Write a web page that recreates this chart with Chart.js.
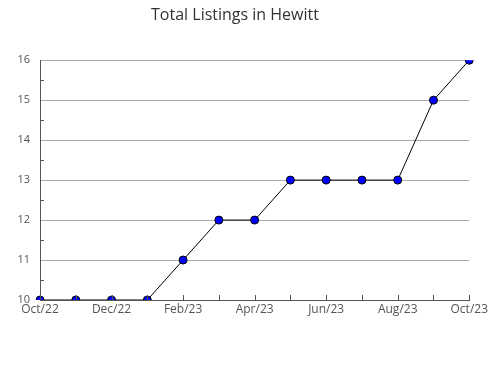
<!DOCTYPE html>
<html lang="en">
<head>
<meta charset="UTF-8">
<title>Total Listings in Hewitt</title>
<style>
  html, body { margin: 0; padding: 0; background: #fff; }
  #wrap { width: 490px; height: 380px; }
</style>
</head>
<body>
<div id="wrap"><canvas id="myChart" width="490" height="380"></canvas></div>
<script src="https://cdn.jsdelivr.net/npm/chart.js@4/dist/chart.umd.min.js"></script>
<script>
const meses = ['Oct/22', 'Nov/22', 'Dec/22', 'Jan/23', 'Feb/23', 'Mar/23', 'Apr/23',
               'May/23', 'Jun/23', 'Jul/23', 'Aug/23', 'Sep/23', 'Oct/23'];
const listings = [10, 10, 10, 10, 11, 12, 12, 13, 13, 13, 13, 15, 16];
const yTicks = [10, 11, 12, 13, 14, 15, 16];

// small ticks pointing into the plot
const inwardTicks = {
  id: 'inwardTicks',
  afterDraw(chart) {
    const ctx = chart.ctx;
    const x = chart.scales.x, y = chart.scales.y;
    const area = chart.chartArea;
    ctx.save();
    ctx.strokeStyle = '#555';
    ctx.lineWidth = 1;
    ctx.beginPath();
    for (let i = 0; i < meses.length; i++) {
      const px = Math.round(x.getPixelForValue(i)) + 0.5;
      ctx.moveTo(px, area.bottom);
      ctx.lineTo(px, area.bottom - 5);
    }
    for (let i = 0; i < yTicks.length - 1; i++) {
      const py = Math.round(y.getPixelForValue(yTicks[i] + 0.5)) + 0.5;
      ctx.moveTo(area.left, py);
      ctx.lineTo(area.left + 4, py);
    }
    ctx.stroke();
    ctx.restore();
  }
};

new Chart(document.getElementById('myChart'), {
  type: 'line',
  data: {
    labels: meses,
    datasets: [{
      label: 'Listings',
      data: listings,
      borderColor: '#000',
      borderWidth: 1,
      pointBackgroundColor: '#0000ff',
      pointBorderColor: '#000',
      pointBorderWidth: 1,
      pointRadius: 4,
      tension: 0
    }]
  },
  options: {
    responsive: false,
    animation: false,
    layout: { padding: { left: 0, right: 20, top: 0, bottom: 0 } },
    plugins: {
      legend: { display: false },
      tooltip: { enabled: false },
      title: {
        display: true,
        text: 'Total Listings in Hewitt',
        color: '#333',
        font: { family: 'Open Sans', size: 16, weight: 'normal' },
        padding: { top: 6, bottom: 35 }
      }
    },
    scales: {
      x: {
        grid: { display: false, drawTicks: false },
        border: { color: '#555', width: 1 },
        afterFit(scale) { scale.height = 80; },
        ticks: {
          autoSkip: false,
          maxRotation: 0,
          padding: 2,
          color: '#555',
          font: { family: 'Open Sans', size: 12 },
          callback: function (v, i) { return i % 2 === 0 ? meses[i] : ''; }
        }
      },
      y: {
        min: 10,
        max: 16,
        afterFit(scale) { scale.width = 40; },
        grid: { color: '#aaa', drawTicks: false },
        border: { color: '#555', width: 1 },
        ticks: {
          stepSize: 1,
          padding: 10,
          color: '#555',
          font: { family: 'Open Sans', size: 11 }
        }
      }
    }
  },
  plugins: [inwardTicks]
});
</script>
</body>
</html>
